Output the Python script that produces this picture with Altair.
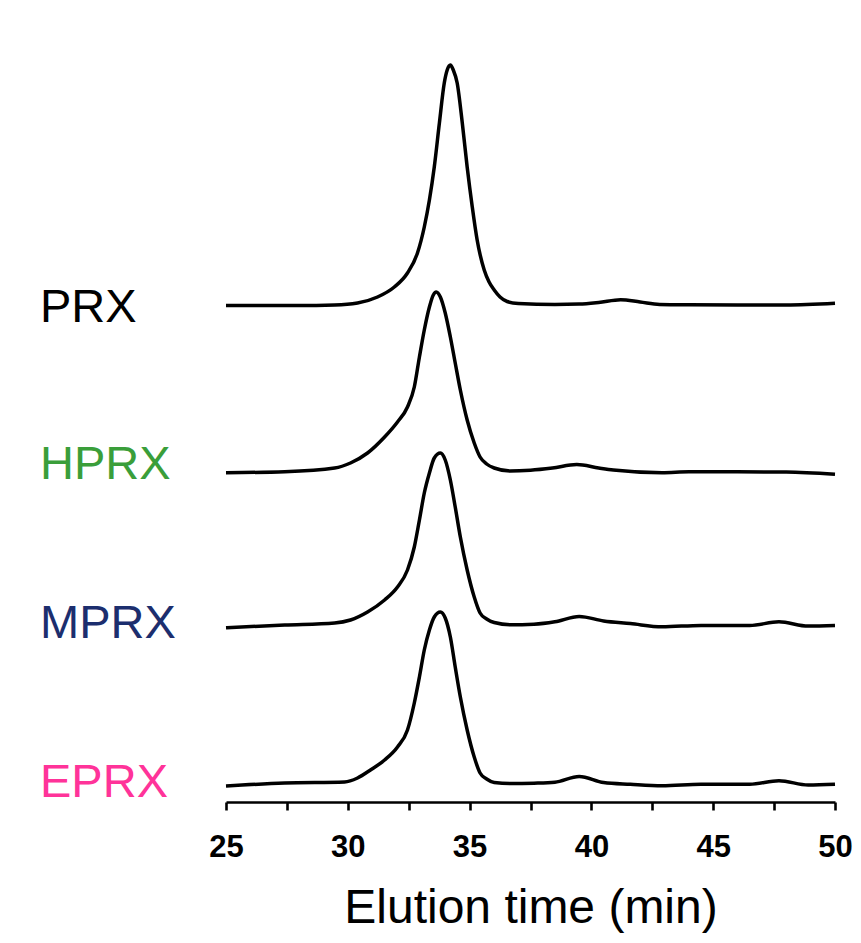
import altair as alt
import pandas as pd

# ---- data (elution time in min, signal level in arbitrary units, traces stacked) ----
prx_t = [25.0, 27.95, 29.46, 30.40, 31.22, 31.91, 32.45, 32.86, 33.14, 33.35, 33.55, 33.76, 33.96, 34.08,
         34.21, 34.33, 34.49, 34.70, 34.90, 35.11, 35.31, 35.60, 35.80, 36.01, 36.25, 36.54, 37.0, 38.5,
         39.5, 40.3, 41.2, 42.0, 42.8, 44.0, 46.0, 48.0, 50.0]
prx_v = [496.5, 496.5, 497, 499, 505, 515, 529, 549, 575, 602, 635, 679, 719, 732,
         737, 732, 719, 679, 635, 595, 562, 532, 520, 512, 505, 500.5, 498.5, 497.6,
         497.9, 499.5, 502.3, 500, 497.6, 497.2, 497, 497, 498.7]

hprx_t = [25.0, 27.41, 29.46, 30.11, 30.81, 31.51, 32.04, 32.45, 32.73, 32.94, 33.14, 33.35, 33.51, 33.63,
          33.80, 34.00, 34.21, 34.41, 34.62, 34.90, 35.19, 35.43, 35.70, 36.01, 36.66, 37.5, 38.4,
          39.4, 40.3, 40.9, 42.9, 44.0, 46.0, 48.0, 50.0]
hprx_v = [329.3, 330.3, 334, 339, 349, 365, 380, 395, 415, 445, 472, 495, 507, 510,
          505, 489, 465, 439, 412, 382, 359, 345, 338, 334, 331, 331.8, 334,
          337.4, 334, 332, 329.3, 330.2, 330.2, 330.0, 327.7]

mprx_t = [25.0, 27.41, 29.46, 30.11, 30.81, 31.51, 32.04, 32.45, 32.73, 32.94, 33.14, 33.35, 33.55, 33.80,
          34.00, 34.21, 34.41, 34.62, 34.90, 35.19, 35.43, 35.70, 36.01, 36.66, 37.64, 38.5, 39.5,
          40.5, 41.6, 42.9, 44.5, 46.5, 47.7, 48.9, 50.0]
mprx_v = [174.3, 177, 179, 182, 190, 202, 215, 232, 255, 282, 309, 329, 344, 349,
          342, 322, 295, 265, 232, 205, 189, 183, 179.5, 177.3, 177.8, 180.2, 185.6,
          181, 178.4, 175.2, 176.6, 176.6, 180.2, 175.9, 176.6]

eprx_t = [25.0, 27.41, 29.87, 30.40, 30.93, 31.51, 32.04, 32.45, 32.73, 32.94, 33.14, 33.35, 33.55, 33.80,
          34.00, 34.21, 34.41, 34.62, 34.90, 35.19, 35.43, 35.70, 36.01, 36.66, 37.64, 38.5, 39.5,
          40.5, 41.6, 42.9, 44.5, 46.5, 47.7, 48.9, 50.0]
eprx_v = [16, 19, 20, 24, 32, 42, 55, 72, 99, 125, 152, 172, 185, 190,
          184, 165, 135, 105, 72, 45, 29, 23, 19.5, 18.4, 18.8, 19.8, 25.6,
          19.5, 17.7, 16.2, 17.7, 17.7, 21.3, 17, 17.7]

names = ["PRX", "HPRX", "MPRX", "EPRX"]
label_colors = ["#000000", "#3A9E3A", "#1C2E6E", "#FF3399"]
label_levels = [480, 323, 164, 5]

x_ticks = [25, 27.5, 30, 32.5, 35, 37.5, 40, 42.5, 45, 47.5, 50]

# ---- build tables ----
rows = []
for name, ts, vs in zip(names, [prx_t, hprx_t, mprx_t, eprx_t], [prx_v, hprx_v, mprx_v, eprx_v]):
    for t, v in zip(ts, vs):
        rows.append({"trace": name, "t": t, "v": v})
df = pd.DataFrame(rows)

xscale = alt.Scale(domain=[25, 50], nice=False, zero=False)
yscale = alt.Scale(domain=[0, 760], nice=False, zero=False)

lines = alt.Chart(df).mark_line(
    color="black", strokeWidth=3.5, interpolate="monotone"
).encode(
    x=alt.X("t:Q", scale=xscale, axis=alt.Axis(
        values=x_ticks,
        labelExpr="datum.value % 5 == 0 ? datum.label : ''",
        title="Elution time (min)",
        titleFont="Liberation Sans", titleFontSize=48, titleFontWeight="normal",
        titleColor="black", titlePadding=22,
        labelFont="Liberation Sans", labelFontSize=31, labelFontWeight="bold",
        labelColor="black", labelPadding=22, labelFlush=False,
        domainColor="black", domainWidth=2.6,
        tickColor="black", tickWidth=2.6, tickSize=8,
        grid=False,
    )),
    y=alt.Y("v:Q", scale=yscale, axis=None),
    detail="trace:N",
)

label_layers = []
for name, col, lvl in zip(names, label_colors, label_levels):
    ldf = pd.DataFrame({"name": [name], "level": [lvl]})
    label_layers.append(
        alt.Chart(ldf).mark_text(
            align="left", baseline="alphabetic", font="Liberation Sans",
            fontSize=47, color=col
        ).encode(
            x=alt.value(-186),
            y=alt.Y("level:Q", scale=yscale, axis=None),
            text="name:N",
        )
    )

chart = alt.layer(lines, *label_layers).properties(
    width=609, height=760,
    background="white",
    autosize=alt.AutoSizeParams(type="none"),
    padding={"left": 218, "top": 34, "right": 18, "bottom": 135},
).configure_view(stroke=None, strokeWidth=0)

chart.save("out.html", embed_options={"renderer": "svg", "actions": False})
